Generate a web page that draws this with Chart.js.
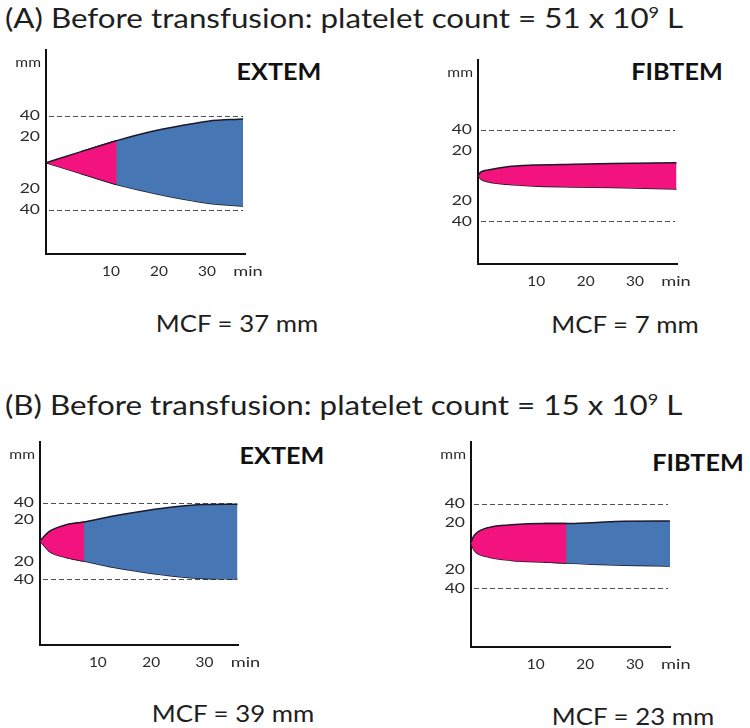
<!DOCTYPE html>
<html lang="en">
<head>
<meta charset="UTF-8">
<title>ROTEM traces before transfusion</title>
<script src="https://cdn.jsdelivr.net/npm/chart.js"></script>
<style>
    body {
        margin: 0;
        background: #fff;
        font-family: Lato, "Open Sans", sans-serif;
        color: #1e1e1e;
    }
    #page {
        position: relative;
        width: 750px;
        height: 728px;
        overflow: hidden;
    }
    #page canvas {
        position: absolute;
        left: 0;
        top: 0;
    }
    .txt {
        position: absolute;
        line-height: 1;
        white-space: nowrap;
    }
    /* the figure's lettering is a little stretched sideways */
    .heading { font-size: 26px; left: 5px; transform: scaleX(1.205); transform-origin: left center; }
    .heading sup { font-size: 15px; vertical-align: 10px; line-height: 0; }
    .panel { font-size: 23px; font-weight: 700; transform: translateX(-50%) scaleX(1.095); color: #111; }
    .mcf { font-size: 24px; transform: translateX(-50%) scaleX(1.075); }
</style>
</head>
<body>
<div id="page">
    <div class="txt heading" style="top:5px">(A) Before transfusion: platelet count = 51 x 10<sup>9</sup> L</div>
    <div class="txt heading" style="top:392px">(B) Before transfusion: platelet count = 15 x 10<sup>9</sup> L</div>

    <div class="txt panel" style="left:279px;top:60px">EXTEM</div>
    <div class="txt panel" style="left:677px;top:60px">FIBTEM</div>
    <div class="txt panel" style="left:282px;top:444px">EXTEM</div>
    <div class="txt panel" style="left:698px;top:451px">FIBTEM</div>

    <div class="txt mcf" style="left:237px;top:311px">MCF = 37 mm</div>
    <div class="txt mcf" style="left:625px;top:312px">MCF = 7 mm</div>
    <div class="txt mcf" style="left:233px;top:701px">MCF = 39 mm</div>
    <div class="txt mcf" style="left:633px;top:704px">MCF = 23 mm</div>

    <canvas id="aExtem" width="750" height="728"></canvas>
    <canvas id="aFibtem" width="750" height="728"></canvas>
    <canvas id="bExtem" width="750" height="728"></canvas>
    <canvas id="bFibtem" width="750" height="728"></canvas>
</div>
<script>
    // time in min, amplitude in mm either side of the centre line
    const aExtemTime  = [-3.5, 3.8, 11.2, 18.2, 24.9, 30.2, 37.5];
    const aExtemUpper = [0, 4.7, 9.4, 13.2, 15.9, 17.7, 18.6];
    const aExtemLower = [0, -4.6, -9.3, -12.7, -15.5, -17.3, -18.5];
    const aExtemSplit = 11.2;

    const aFibtemTime  = [-1.8, -1.2, 0.25, 4.1, 9.3, 17.7, 25.5, 38.4];
    const aFibtemUpper = [0, 1.5, 2.4, 3.8, 4.5, 4.9, 5.2, 5.5];
    const aFibtemLower = [0, -1.6, -2.8, -3.9, -4.6, -5.0, -5.3, -5.9];
    const aFibtemSplit = 38.4; // no blue part

    const bExtemTime  = [-0.85, 0.9, 3.9, 7.4, 12.9, 18.9, 24.9, 29.7, 36.2];
    const bExtemUpper = [0, 4.9, 8.3, 9.9, 13.0, 15.8, 18.0, 19.0, 19.2];
    const bExtemLower = [0, -5.5, -8.6, -10.6, -13.9, -16.6, -18.7, -19.7, -20.0];
    const bExtemSplit = 7.4;

    const bFibtemTime  = [-3.05, -2.7, -2.0, 0.6, 5.1, 11.6, 16.2, 21.3, 27.8, 37.1];
    const bFibtemUpper = [1.5, 3.8, 6.0, 8.8, 10.0, 10.6, 10.6, 11.0, 11.7, 11.8];
    const bFibtemLower = [1.5, -0.8, -3.0, -5.3, -6.8, -7.6, -8.0, -8.6, -9.1, -9.4];
    const bFibtemSplit = 16.2;

    const refLevels = [20, -20];            // 40 mm amplitude lines
    const yTickVals = [20, 11, -11, -20];
    const yTickLabels = ['40', '20', '20', '40'];
    const xTickVals = [10, 20, 30];
    const xTickLabels = ['10', '20', '30'];

    const PINK = '#f2137e';
    const BLUE = '#4676b4';
    const EDGE = '#1c1a2a';

    const panels = [
        { id: 'aExtem', time: aExtemTime, upper: aExtemUpper, lower: aExtemLower, split: aExtemSplit,
          x: [-3.5, 37.9], y: [-38.9, 48.0], box: { left: 38, top: 50, right: 245, bottom: 262 } },
        { id: 'aFibtem', time: aFibtemTime, upper: aFibtemUpper, lower: aFibtemLower, split: aFibtemSplit,
          x: [-1.8, 38.5], y: [-38.6, 50.3], box: { left: 470, top: 60, right: 677, bottom: 272 } },
        { id: 'bExtem', time: bExtemTime, upper: bExtemUpper, lower: bExtemLower, split: bExtemSplit,
          x: [-0.85, 36.3], y: [-54.6, 51.8], box: { left: 32, top: 442, right: 238, bottom: 653 } },
        { id: 'bFibtem', time: bFibtemTime, upper: bFibtemUpper, lower: bFibtemLower, split: bFibtemSplit,
          x: [-3.05, 37.1], y: [-47.7, 49.1], box: { left: 463, top: 442, right: 670, bottom: 655 } }
    ];

    function points(time, vals, from, to) {
        return time.slice(from, to).map((t, i) => ({ x: t, y: vals[from + i] }));
    }

    function trace(data, color, fill) {
        return {
            data: data,
            fill: fill ? '+1' : false,
            backgroundColor: color,
            borderColor: EDGE,
            borderWidth: 1.5,
            pointRadius: 0,
            cubicInterpolationMode: 'monotone'
        };
    }

    function stretchedText(ctx, str, x, y, align, sx) {
        ctx.save();
        ctx.translate(x, y);
        ctx.scale(sx, 1);
        ctx.textAlign = align;
        ctx.fillText(str, 0, 0);
        ctx.restore();
    }

    const refLines = {
        id: 'refLines',
        beforeDatasetsDraw(chart) {
            const { ctx, chartArea: a, scales: { y } } = chart;
            ctx.save();
            ctx.strokeStyle = '#4a525c';
            ctx.lineWidth = 1.2;
            ctx.setLineDash([5, 3]);
            refLevels.forEach(v => {
                const py = Math.round(y.getPixelForValue(v)) + 0.5;
                ctx.beginPath();
                ctx.moveTo(a.left + 3, py);
                ctx.lineTo(a.right - 2, py);
                ctx.stroke();
            });
            ctx.restore();
        }
    };

    const axisText = {
        id: 'axisText',
        afterDraw(chart) {
            const { ctx, chartArea: a, scales: { x, y } } = chart;
            ctx.save();
            ctx.fillStyle = '#2a2a2a';
            ctx.textBaseline = 'middle';
            ctx.font = '14px Lato';
            yTickVals.forEach((v, i) => stretchedText(ctx, yTickLabels[i], a.left - 6, y.getPixelForValue(v), 'right', 1.25));
            ctx.font = '13px Lato';
            stretchedText(ctx, 'mm', a.left - 5, a.top + 13, 'right', 1.2);

            ctx.font = '14px Lato';
            xTickVals.forEach((v, i) => stretchedText(ctx, xTickLabels[i], x.getPixelForValue(v), a.bottom + 17, 'center', 1.1));
            stretchedText(ctx, 'min', x.getPixelForValue(xTickVals[xTickVals.length - 1]) + 41, a.bottom + 17, 'center', 1.3);
            ctx.restore();
        }
    };

    panels.forEach(p => {
        const n = p.time.length;
        const k = p.time.indexOf(p.split);
        // pink (clot formation) drawn last, on top of the blue part, which starts one point earlier
        const datasets = [
            trace(points(p.time, p.upper, 0, k + 1), PINK, true),
            trace(points(p.time, p.lower, 0, k + 1), PINK, false)
        ];
        if (k < n - 1) {
            const from = Math.max(k - 1, 0);
            datasets.push(
                trace(points(p.time, p.upper, from, n), BLUE, true),
                trace(points(p.time, p.lower, from, n), BLUE, false)
            );
        }

        const axis = (range) => ({
            type: 'linear',
            min: range[0],
            max: range[1],
            ticks: { display: false },
            grid: { display: false },
            border: { display: true, color: '#111', width: 2 }
        });

        new Chart(document.getElementById(p.id), {
            type: 'line',
            data: { datasets: datasets },
            options: {
                responsive: false,
                animation: false,
                events: [],
                layout: {
                    padding: { left: p.box.left, top: p.box.top, right: 750 - p.box.right, bottom: 728 - p.box.bottom }
                },
                plugins: { legend: { display: false }, tooltip: { enabled: false } },
                scales: { x: axis(p.x), y: axis(p.y) }
            },
            plugins: [refLines, axisText]
        });
    });
</script>
</body>
</html>
